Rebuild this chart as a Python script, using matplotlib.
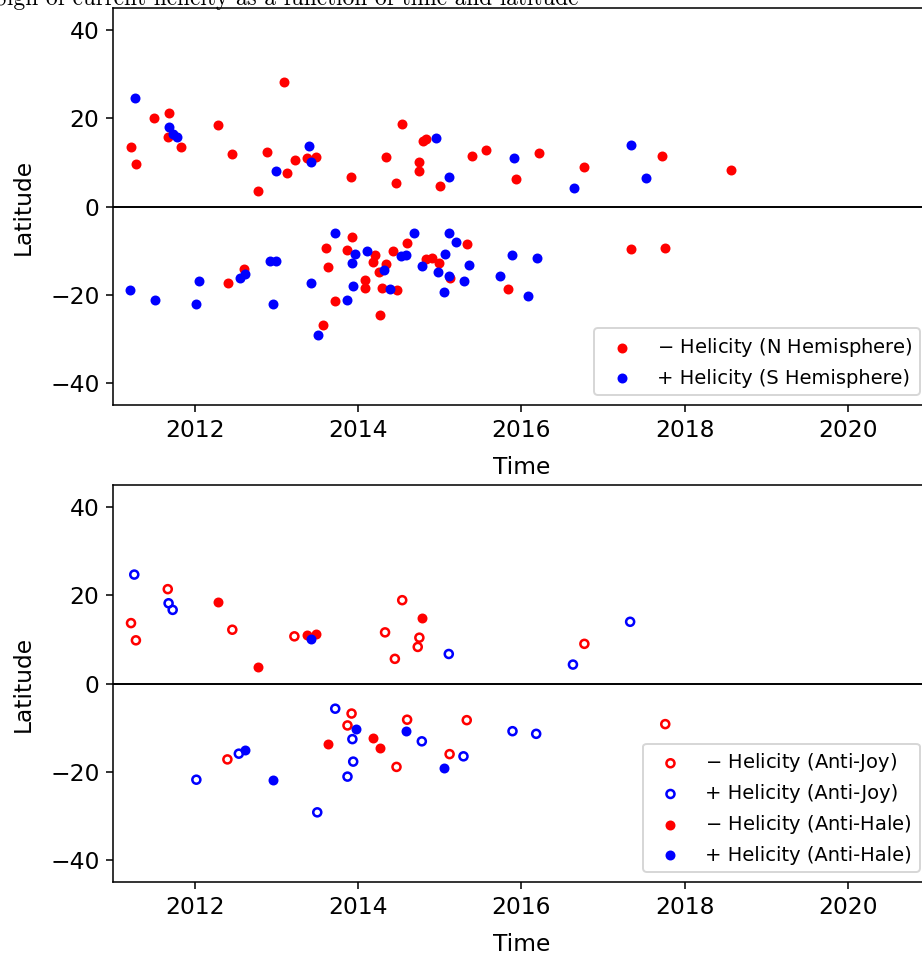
import numpy as np
import matplotlib
matplotlib.use('Agg')
import matplotlib.pyplot as plt

# Panel superior: signo de la helicidad por hemisferio
neg_t = [2011.22, 2011.28, 2011.50, 2011.68, 2011.67, 2011.83, 2012.28, 2012.46,
         2012.89, 2012.77, 2013.09, 2013.13, 2013.23, 2013.37, 2013.48, 2013.91,
         2014.34, 2014.46, 2014.54, 2014.79, 2014.83, 2014.75, 2014.74, 2015.00,
         2015.39, 2015.56, 2016.21, 2015.93, 2016.77, 2017.72, 2018.57,
         2012.41, 2012.60, 2013.57, 2013.61, 2013.63, 2013.72, 2013.93, 2013.87,
         2014.21, 2014.18, 2014.34, 2014.26, 2014.08, 2014.09, 2014.27, 2014.29,
         2014.48, 2014.43, 2014.60, 2014.83, 2014.91, 2014.99, 2015.13, 2015.33,
         2015.83, 2017.34, 2017.76]
neg_lat = [13.5, 9.6, 20.0, 21.3, 15.8, 13.5, 18.4, 12.0,
           12.3, 3.6, 28.2, 7.7, 10.6, 10.9, 11.3, 6.6,
           11.3, 5.4, 18.8, 14.9, 15.4, 10.2, 8.1, 4.7,
           11.5, 12.8, 12.2, 6.2, 8.9, 11.5, 8.3,
           -17.3, -14.2, -26.8, -9.5, -13.7, -21.4, -6.9, -9.9,
           -11.1, -12.5, -13.1, -14.8, -16.7, -18.4, -24.5, -18.4,
           -19.0, -10.1, -8.3, -11.9, -11.7, -12.9, -16.3, -8.4,
           -18.8, -9.7, -9.5]

pos_t = [2011.27, 2011.69, 2011.73, 2011.78, 2012.99, 2013.40, 2013.42, 2014.95,
         2015.11, 2015.91, 2016.64, 2017.34, 2017.52,
         2011.21, 2011.51, 2012.02, 2012.05, 2012.55, 2012.62, 2012.92, 2013.00,
         2012.96, 2013.42, 2013.51, 2013.72, 2013.96, 2013.93, 2013.87, 2013.94,
         2014.11, 2014.32, 2014.39, 2014.53, 2014.59, 2014.68, 2015.11, 2015.20,
         2015.06, 2014.78, 2014.98, 2015.11, 2015.36, 2015.30, 2015.05, 2015.89,
         2016.19, 2015.74, 2016.08]
pos_lat = [24.6, 18.1, 16.5, 15.8, 8.0, 13.7, 10.1, 15.5,
           6.6, 11.0, 4.1, 13.9, 6.5,
           -18.9, -21.2, -22.0, -16.8, -16.2, -15.2, -12.3, -12.3,
           -22.1, -17.4, -29.1, -5.9, -10.7, -12.8, -21.3, -18.0,
           -10.1, -14.4, -18.6, -11.2, -10.9, -5.9, -5.9, -8.0,
           -10.7, -13.4, -14.9, -15.8, -13.3, -16.8, -19.3, -11.0,
           -11.6, -15.8, -20.2]

# Panel inferior: regiones anti-Joy y anti-Hale
ajn_t = [2011.67, 2011.22, 2011.28, 2012.46, 2013.22, 2014.33, 2014.45, 2014.54,
         2014.75, 2014.73, 2016.77, 2013.92, 2013.87, 2014.47, 2012.40, 2014.60,
         2015.33, 2015.12, 2017.76]
ajn_lat = [21.4, 13.7, 9.8, 12.2, 10.7, 11.6, 5.6, 18.9,
           10.4, 8.3, 9.0, -6.8, -9.5, -18.9, -17.2, -8.2,
           -8.3, -16.0, -9.2]

ajp_t = [2011.26, 2011.68, 2011.73, 2015.11, 2016.63, 2017.33, 2013.72, 2013.93,
         2013.94, 2013.87, 2013.50, 2012.54, 2012.02, 2014.78, 2015.29, 2015.89,
         2016.18]
ajp_lat = [24.7, 18.2, 16.7, 6.7, 4.3, 14.0, -5.7, -12.6,
           -17.7, -21.1, -29.2, -15.9, -21.8, -13.1, -16.5, -10.8,
           -11.4]

ahn_t = [2012.28, 2012.77, 2013.37, 2013.48, 2014.78, 2013.63, 2014.18, 2014.27]
ahn_lat = [18.5, 3.7, 11.0, 11.3, 14.9, -13.6, -12.3, -14.7]

ahp_t = [2013.42, 2013.97, 2012.96, 2012.62, 2014.59, 2015.05]
ahp_lat = [10.1, -10.4, -21.9, -15.1, -10.7, -19.2]

dpi = 140
fig = plt.figure(figsize=(922/dpi, 955/dpi), dpi=dpi)

ax1 = fig.add_axes([0.1226, 0.5759, 0.886, 0.4157])
ax2 = fig.add_axes([0.1226, 0.0764, 0.886, 0.4157])

s = 17
ax1.scatter(neg_t, neg_lat, s=s, c='red', label=r'$-$ Helicity (N Hemisphere)')
ax1.scatter(pos_t, pos_lat, s=s, c='blue', label='+ Helicity (S Hemisphere)')

ax2.scatter(ajn_t, ajn_lat, s=s, facecolors='none', edgecolors='red', linewidths=1.3,
            label=r'$-$ Helicity (Anti-Joy)')
ax2.scatter(ajp_t, ajp_lat, s=s, facecolors='none', edgecolors='blue', linewidths=1.3,
            label='+ Helicity (Anti-Joy)')
ax2.scatter(ahn_t, ahn_lat, s=s, c='red', label=r'$-$ Helicity (Anti-Hale)')
ax2.scatter(ahp_t, ahp_lat, s=s, c='blue', label='+ Helicity (Anti-Hale)')

for ax in (ax1, ax2):
    ax.axhline(0, color='k', lw=1)
    ax.set_xlim(2011, 2021)
    ax.set_ylim(-45, 45)
    ax.set_xticks([2012, 2014, 2016, 2018, 2020])
    ax.set_yticks([-40, -20, 0, 20, 40])
    ax.tick_params(labelsize=12)
    ax.set_xlabel('Time', fontsize=12, labelpad=7.5)
    ax.set_ylabel('Latitude', fontsize=12, labelpad=8)
    ax.legend(loc='lower right', fontsize=10)

fig.text(578/922, 1 - 5/955, 'Sign of current helicity as a function of time and latitude',
         ha='right', va='baseline', family='cmr10', fontsize=12)

fig.savefig('out.png', dpi=dpi)
